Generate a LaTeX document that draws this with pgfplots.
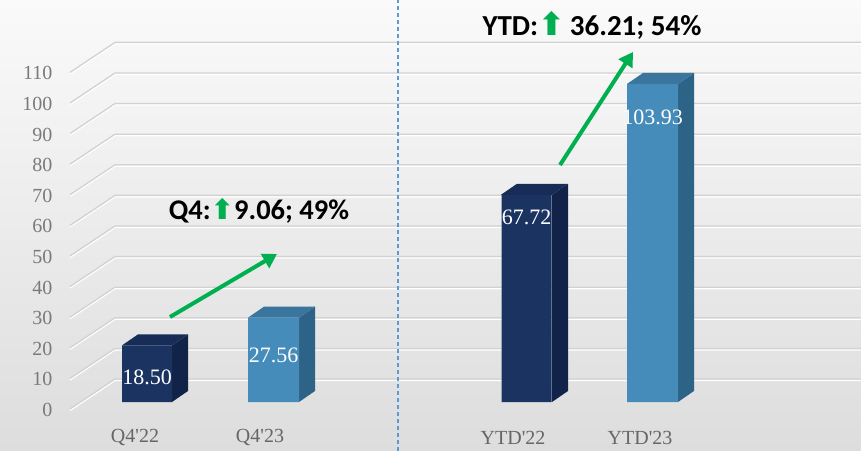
\documentclass[border=0pt]{standalone}
\usepackage{pgfplots}
\pgfplotsset{compat=1.18}
\usepackage{fontspec}
\setmainfont{Liberation Serif}
\newfontfamily\anfont{Carlito}
\newfontfamily\symfont{DejaVu Sans}
\usetikzlibrary{arrows.meta}
\definecolor{darkbar}{HTML}{1B3361}
\definecolor{darkside}{HTML}{12234A}
\definecolor{darktop}{HTML}{172C57}
\definecolor{lightbar}{HTML}{468CBA}
\definecolor{lightside}{HTML}{2D6386}
\definecolor{lighttop}{HTML}{3A759D}
\definecolor{arrowgreen}{HTML}{00B050}
\definecolor{gridgray}{HTML}{D2D2D2}
\definecolor{ticktext}{HTML}{7A7A7A}
\definecolor{cattext}{HTML}{666666}
\definecolor{dashblue}{HTML}{5B9BD5}
\definecolor{bgtop}{HTML}{FAFAFA}
\definecolor{bgbot}{HTML}{DDDDDD}
\begin{document}
\begin{tikzpicture}
\begin{axis}[
  scale only axis, width=861pt, height=451pt,
  xmin=0, xmax=861, ymin=-16.01, ymax=131.37,
  axis line style={draw=none},
  major tick length=0pt,
  xtick=\empty,
  ytick={0,10,...,110},
  /pgf/number format/assume math mode=true,
  yticklabel style={anchor=east, xshift=56pt, yshift=-8pt, font=\fontsize{20}{22}\selectfont, text=ticktext},
  axis background/.style={shade, top color=bgtop, bottom color=bgbot},
  clip=false,
]
% embossed gridlines (front-left diagonal + back wall)
\pgfplotsinvokeforeach{0,10,...,110}{
  \draw[white, line width=1.3pt] ([yshift=-8.5pt]axis cs:70,#1) -- ([yshift=21.5pt]axis cs:115,#1) -- ([yshift=21.5pt]axis cs:861,#1);
  \draw[gridgray, line width=1.3pt] ([yshift=-7pt]axis cs:70,#1) -- ([yshift=23pt]axis cs:115,#1) -- ([yshift=23pt]axis cs:861,#1);
}
% dashed separator
\draw[dashblue, dash pattern=on 4pt off 3pt, line width=1.2pt] (axis cs:398,-16.01) -- (axis cs:398,131.37);

% side faces
\addplot[fill=darkside, draw=none] coordinates {(172,0) (188,3.6) (188,22.1) (172,18.50)} -- cycle;
\addplot[fill=lightside, draw=none] coordinates {(299,0) (315,3.6) (315,31.16) (299,27.56)} -- cycle;
\addplot[fill=darkside, draw=none] coordinates {(552,0) (568,3.6) (568,71.32) (552,67.72)} -- cycle;
\addplot[fill=lightside, draw=none] coordinates {(678,0) (694,3.6) (694,107.53) (678,103.93)} -- cycle;
% top faces
\addplot[fill=darktop, draw=none] coordinates {(122,18.50) (138,22.1) (188,22.1) (172,18.50)} -- cycle;
\addplot[fill=lighttop, draw=none] coordinates {(248,27.56) (264,31.16) (315,31.16) (299,27.56)} -- cycle;
\addplot[fill=darktop, draw=none] coordinates {(501,67.72) (517,71.32) (568,71.32) (552,67.72)} -- cycle;
\addplot[fill=lighttop, draw=none] coordinates {(627,103.93) (643,107.53) (694,107.53) (678,103.93)} -- cycle;
% front faces
\addplot[ybar, bar width=50, bar shift=0pt, fill=darkbar, draw=none] coordinates {(147,18.50) (526.5,67.72)};
\addplot[ybar, bar width=51, bar shift=0pt, fill=lightbar, draw=none] coordinates {(273.5,27.56) (652.5,103.93)};

% value labels
\node[text=white, font=\fontsize{22}{24}\selectfont] at (axis cs:147,8.17) {18.50};
\node[text=white, font=\fontsize{22}{24}\selectfont] at (axis cs:273.5,15.36) {27.56};
\node[text=white, font=\fontsize{22}{24}\selectfont] at (axis cs:526.5,60.46) {67.72};
\node[text=white, font=\fontsize{22}{24}\selectfont] at (axis cs:652.5,93.14) {103.93};

% category labels
\node[text=cattext, font=\fontsize{20}{22}\selectfont] at (axis cs:135,-11.76) {Q4\textquotesingle22};
\node[text=cattext, font=\fontsize{20}{22}\selectfont] at (axis cs:260,-11.76) {Q4\textquotesingle23};
\node[text=cattext, font=\fontsize{20}{22}\selectfont] at (axis cs:513,-11.76) {YTD\textquotesingle22};
\node[text=cattext, font=\fontsize{20}{22}\selectfont] at (axis cs:640,-11.76) {YTD\textquotesingle23};

% green arrows
\draw[arrowgreen, line width=4pt, -{Triangle[length=14pt, width=16pt]}] (axis cs:170,27.78) -- (axis cs:277,48.37);
\draw[arrowgreen, line width=4pt, -{Triangle[length=14pt, width=16pt]}] (axis cs:560,77.45) -- (axis cs:633,114.38);

% annotations
\node[font=\anfont\bfseries\fontsize{28.5}{30}\selectfont] at (axis cs:259,62.42) {Q4:{\symfont\fontsize{28}{30}\selectfont\textcolor{arrowgreen}{⬆}}9.06; 49\%};
\node[font=\anfont\bfseries\fontsize{29}{32}\selectfont] at (axis cs:592,123.2) {YTD:{\symfont\fontsize{32}{34}\selectfont\textcolor{arrowgreen}{⬆}}\,36.21; 54\%};
\end{axis}
\pgfresetboundingbox
\path (current axis.south west) rectangle (current axis.north east);
\end{tikzpicture}
\end{document}
